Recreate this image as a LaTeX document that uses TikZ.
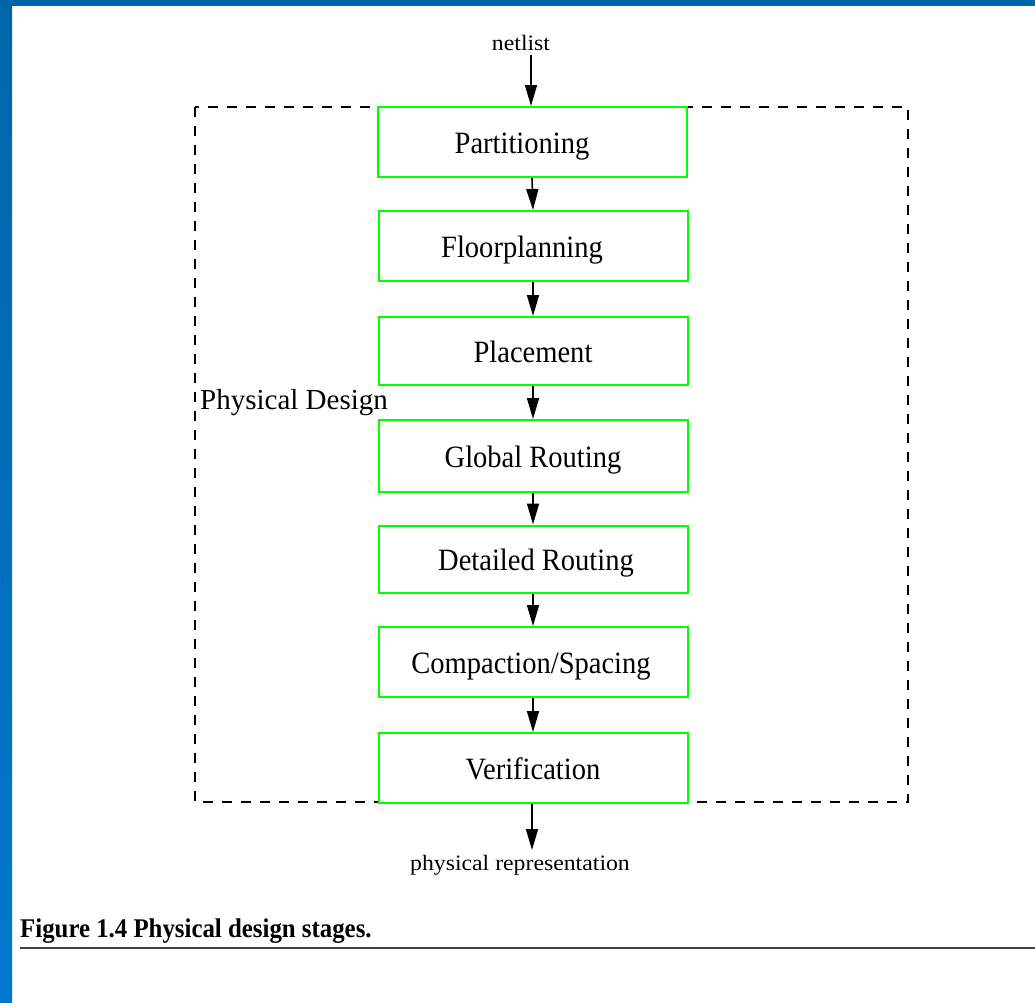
\documentclass[tikz,border=0pt]{standalone}
\usepackage{fontspec}
\setmainfont{Liberation Serif}
\newfontfamily\boxfont[FakeStretch=0.92]{Liberation Serif}
\newfontfamily\smallfont[FakeStretch=1.08]{Liberation Serif}
\newfontfamily\capfont[FakeStretch=0.92]{Liberation Serif}
\usetikzlibrary{arrows.meta}
\definecolor{bandtop}{HTML}{0066AA}
\definecolor{bandbot}{HTML}{0078CC}
\definecolor{boxgreen}{HTML}{00FF00}
\tikzset{
  stagebox/.style={draw=boxgreen, line width=2pt, fill=white, minimum width=309pt,
    inner sep=0pt, text height=22pt, text depth=0pt,
    font=\boxfont\fontsize{31}{33}\selectfont},
  flowarrow/.style={draw=black, line width=1.6pt, -{Triangle[length=21pt,width=12pt]}},
  smalltext/.style={inner sep=0pt, anchor=base, font=\smallfont\fontsize{22}{24}\selectfont},
}
\begin{document}
\begin{tikzpicture}[x=1pt,y=-1pt]
\useasboundingbox (0,0) rectangle (1035,1002);
\fill[white] (0,0) rectangle (1035,1002);
\fill[bandtop] (0,0) rectangle (1035,6);
\shade[top color=bandtop, bottom color=bandbot] (0,0) rectangle (12,1002);

% dashed frame
\draw[line width=2pt, dash pattern=on 10pt off 9pt] (195,107) rectangle (908,802);

% stages
\node[stagebox, minimum height=70pt] (p1) at (532,142) {\hspace*{-20pt}Partitioning};
\node[stagebox, minimum height=70pt] (p2) at (533,246) {\hspace*{-22pt}Floorplanning};
\node[stagebox, minimum height=68pt] (p3) at (533,351) {Placement};
\node[stagebox, minimum height=72pt] (p4) at (533,456) {Global Routing};
\node[stagebox, minimum height=67pt] (p5) at (533,559) {\hspace*{6pt}Detailed Routing};
\node[stagebox, minimum height=70pt] (p6) at (533,662) {\hspace*{-4pt}Compaction/Spacing};
\node[stagebox, minimum height=70pt] (p7) at (533,768) {Verification};

\node[anchor=base west, inner sep=0pt, font=\fontsize{29}{31}\selectfont] (pd) at (200,409) {Physical Design};

% input / output
\node[smalltext] (net) at (521,50) {netlist};
\coordinate (netend) at (531,55);
\draw[flowarrow] (netend) -- (p1.north -| netend);

\coordinate (outend) at (532,850);
\draw[flowarrow] (p7.south -| outend) -- (outend);
\node[smalltext] (phys) at (520,870) {physical representation};

% connectors
\foreach \a/\b in {p1/p2,p2/p3,p3/p4,p4/p5,p5/p6,p6/p7}{
  \draw[flowarrow] (\a.south) -- (\b.north);
}

% caption
\node[anchor=base west, inner sep=0pt, font=\capfont\fontsize{27}{29}\selectfont\bfseries] (cap) at (20,937) {Figure 1.4 Physical design stages.};
\coordinate (ruleA) at (20,948);
\coordinate (ruleB) at (1035,948);
\draw[line width=2.5pt, black!75] (ruleA) -- (ruleB);
\end{tikzpicture}
\end{document}
